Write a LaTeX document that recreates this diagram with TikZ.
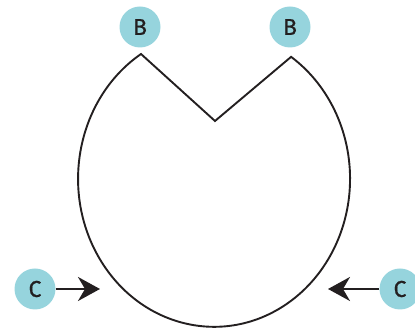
\documentclass[tikz,border=0pt]{standalone}
\usepackage{fontspec}
\setmainfont{Fira Sans}
\usetikzlibrary{arrows.meta}
\definecolor{bub}{HTML}{96D4DD}
\definecolor{ink}{HTML}{231F20}
\begin{document}
\begin{tikzpicture}[x=1pt,y=1pt,
  bubble/.style={circle,fill=bub,draw=none,minimum size=41pt,inner sep=0pt,font=\fontsize{23}{23}\selectfont\addfontfeature{FakeBold=0.6},text=ink},
  outline/.style={draw=ink,line width=1.9pt,line join=miter},
  push/.style={draw=ink,line width=2.2pt,-{Stealth[length=22pt,width=24pt,inset=7pt]}}]
\useasboundingbox (0,0) rectangle (415,331);
\coordinate (nl) at (141,277);
\coordinate (nb) at (215,210);
\draw[outline] (nb) -- (nl) arc[start angle=122.5,end angle=415.5,x radius=136,y radius=148] coordinate (nr) -- cycle;
\node[bubble] (b1) at (140,304) {B};
\node[bubble] (b2) at (290,304) {B};
\node[bubble] (c1) at (35,42) {C};
\node[bubble] (c2) at (400,42) {C};
\coordinate (t1) at (100,42);
\coordinate (t2) at (328,42);
\draw[push] (c1) -- (t1);
\draw[push] (c2) -- (t2);
\end{tikzpicture}
\end{document}
